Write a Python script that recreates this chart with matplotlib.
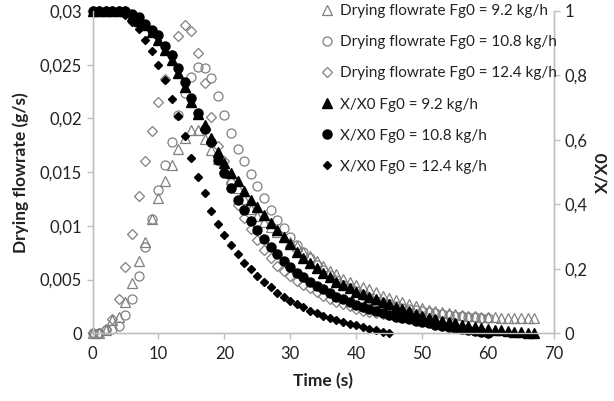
import matplotlib
matplotlib.use("Agg")
import matplotlib.pyplot as plt
from matplotlib.ticker import FuncFormatter

plt.rcParams['font.family'] = ['Lato', 'DejaVu Sans']

# ---- data (time in s, one point per second) ----
t_92 = list(range(0, 68))
t_108 = list(range(0, 61))
t_124 = list(range(0, 46))

flow_92 = [0, 0, 0.0003, 0.0012, 0.0015, 0.0029, 0.0047, 0.0067, 0.0085, 0.0106,
           0.0126, 0.0142, 0.0157, 0.0172, 0.0182, 0.0189, 0.0189, 0.0181, 0.0171, 0.0162,
           0.0154, 0.0144, 0.0135, 0.0125, 0.0116, 0.0109, 0.0104, 0.0099, 0.0094, 0.0090,
           0.0085, 0.0081, 0.0076, 0.0072, 0.0067, 0.0063, 0.0058, 0.0055, 0.0051, 0.0048,
           0.0045, 0.0043, 0.0041, 0.0038, 0.0035, 0.0033, 0.0031, 0.0029, 0.0027, 0.0025,
           0.0024, 0.0022, 0.0021, 0.0020, 0.0019, 0.0018, 0.0017, 0.0016, 0.0016, 0.0015,
           0.0015, 0.0015, 0.0014, 0.0014, 0.0014, 0.0014, 0.0014, 0.0014]
flow_108 = [0, 0, 0.0003, 0.0004, 0.0007, 0.0017, 0.0032, 0.0053, 0.0080, 0.0106,
            0.0133, 0.0157, 0.0178, 0.0203, 0.0224, 0.0239, 0.0248, 0.0247, 0.0238, 0.0221,
            0.0203, 0.0186, 0.0172, 0.0160, 0.0148, 0.0137, 0.0126, 0.0115, 0.0105, 0.0098,
            0.0090, 0.0082, 0.0076, 0.0070, 0.0064, 0.0059, 0.0054, 0.0050, 0.0045, 0.0042,
            0.0039, 0.0036, 0.0033, 0.0030, 0.0028, 0.0027, 0.0025, 0.0024, 0.0023, 0.0022,
            0.0021, 0.0020, 0.0019, 0.0018, 0.0017, 0.0016, 0.0016, 0.0015, 0.0015, 0.0014,
            0.0014]
flow_124 = [0, 0, 0.0004, 0.0013, 0.0032, 0.0062, 0.0092, 0.0128, 0.0160, 0.0188,
            0.0215, 0.0237, 0.0259, 0.0277, 0.0287, 0.0281, 0.0261, 0.0233, 0.0201, 0.0174,
            0.0160, 0.0141, 0.0119, 0.0107, 0.0097, 0.0087, 0.0078, 0.0070, 0.0063, 0.0058,
            0.0053, 0.0049, 0.0045, 0.0042, 0.0038, 0.0035, 0.0032, 0.0029, 0.0027, 0.0025,
            0.0023, 0.0021, 0.0020, 0.0019, 0.0018, 0.0017]

x_92 = [1.0, 1.0, 1.0, 1.0, 1.0, 1.0, 0.985, 0.97, 0.955, 0.935,
        0.91, 0.88, 0.849, 0.808, 0.764, 0.719, 0.680, 0.645, 0.606, 0.564,
        0.528, 0.497, 0.471, 0.442, 0.414, 0.393, 0.367, 0.342, 0.319, 0.300,
        0.276, 0.253, 0.233, 0.217, 0.202, 0.186, 0.174, 0.160, 0.150, 0.140,
        0.129, 0.121, 0.114, 0.106, 0.098, 0.090, 0.082, 0.075, 0.068, 0.061,
        0.055, 0.049, 0.044, 0.039, 0.035, 0.031, 0.027, 0.023, 0.020, 0.017,
        0.014, 0.011, 0.009, 0.007, 0.005, 0.003, 0.002, 0.0]
x_108 = [1.0, 1.0, 1.0, 1.0, 1.0, 1.0, 0.99, 0.98, 0.96, 0.94,
         0.925, 0.89, 0.864, 0.823, 0.781, 0.730, 0.683, 0.634, 0.592, 0.538,
         0.497, 0.452, 0.414, 0.383, 0.347, 0.319, 0.292, 0.269, 0.246, 0.225,
         0.207, 0.188, 0.174, 0.160, 0.147, 0.137, 0.124, 0.114, 0.106, 0.097,
         0.088, 0.081, 0.075, 0.068, 0.062, 0.057, 0.052, 0.047, 0.043, 0.039,
         0.035, 0.031, 0.027, 0.024, 0.020, 0.017, 0.013, 0.010, 0.007, 0.004,
         0.001]
x_124 = [1.0, 1.0, 1.0, 1.0, 1.0, 0.989, 0.967, 0.944, 0.911, 0.875,
         0.833, 0.787, 0.727, 0.673, 0.611, 0.543, 0.486, 0.435, 0.378, 0.339,
         0.305, 0.274, 0.246, 0.219, 0.199, 0.178, 0.160, 0.143, 0.126, 0.114,
         0.101, 0.091, 0.081, 0.070, 0.062, 0.054, 0.048, 0.042, 0.036, 0.030,
         0.025, 0.019, 0.014, 0.009, 0.005, 0.001]

labels = ["Drying flowrate Fg0 = 9.2 kg/h", "Drying flowrate Fg0 = 10.8 kg/h",
          "Drying flowrate Fg0 = 12.4 kg/h", "X/X0 Fg0 = 9.2 kg/h",
          "X/X0 Fg0 = 10.8 kg/h", "X/X0 Fg0 = 12.4 kg/h"]
left_ticks = [0, 0.005, 0.01, 0.015, 0.02, 0.025, 0.03]
right_ticks = [0, 0.2, 0.4, 0.6, 0.8, 1]
x_ticks = [0, 10, 20, 30, 40, 50, 60, 70]

# ---- figure ----
fig = plt.figure(figsize=(6.14, 4.01), dpi=100)
ax = fig.add_axes([0.1507, 0.1688, 0.9023 - 0.1507, 0.9726 - 0.1688])
ax2 = ax.twinx()

gray = '#808080'
spine_c = '#bfbfbf'
ms_open = dict(linestyle='none', markerfacecolor='none', markeredgecolor=gray,
               markeredgewidth=0.9, clip_on=False)
h1, = ax.plot(t_92, flow_92, marker='^', markersize=6.5, **ms_open)
h2, = ax.plot(t_108, flow_108, marker='o', markersize=6.5, **ms_open)
h3, = ax.plot(t_124, flow_124, marker='D', markersize=4.8, **ms_open)

ms_fill = dict(linestyle='none', color='black', clip_on=False)
h4, = ax2.plot(t_92, x_92, marker='^', markersize=6.5, **ms_fill)
h5, = ax2.plot(t_108, x_108, marker='o', markersize=6.5, **ms_fill)
h6, = ax2.plot(t_124, x_124, marker='D', markersize=4.5, **ms_fill)

ax.set_xlim(0, 70)
ax.set_ylim(0, 0.03)
ax2.set_ylim(0, 1)
ax.set_xticks(x_ticks)
ax.set_yticks(left_ticks)
ax2.set_yticks(right_ticks)

def comma(v, pos):
    s = ('%.3f' % v).rstrip('0').rstrip('.')
    return s.replace('.', ',')

ax.yaxis.set_major_formatter(FuncFormatter(comma))
ax2.yaxis.set_major_formatter(FuncFormatter(comma))

for a in (ax, ax2):
    a.spines['top'].set_visible(False)
    for s in ('left', 'right', 'bottom'):
        a.spines[s].set_color(spine_c)
        a.spines[s].set_linewidth(1.0)
    a.tick_params(colors=spine_c, labelcolor='#222222', labelsize=12, length=4, width=1.0)
    a.patch.set_visible(False)
ax.tick_params(axis='x', pad=5)

ax.set_xlabel('Time (s)', fontsize=12.5, fontweight='bold', color='#222222', labelpad=8)
ax.set_ylabel('Drying flowrate (g/s)', fontsize=12.5, fontweight='bold', color='#222222', labelpad=8)
ax2.set_ylabel('X/X0', fontsize=12.5, fontweight='bold', color='#222222', labelpad=5)

leg = ax2.legend([h1, h2, h3, h4, h5, h6], labels, loc='upper right',
                 bbox_to_anchor=(1.02, 1.04), frameon=False, fontsize=11,
                 handlelength=0.8, handletextpad=0.5, labelspacing=1.12,
                 borderaxespad=0.0, labelcolor='#222222')

fig.savefig('out.png', dpi=100)
